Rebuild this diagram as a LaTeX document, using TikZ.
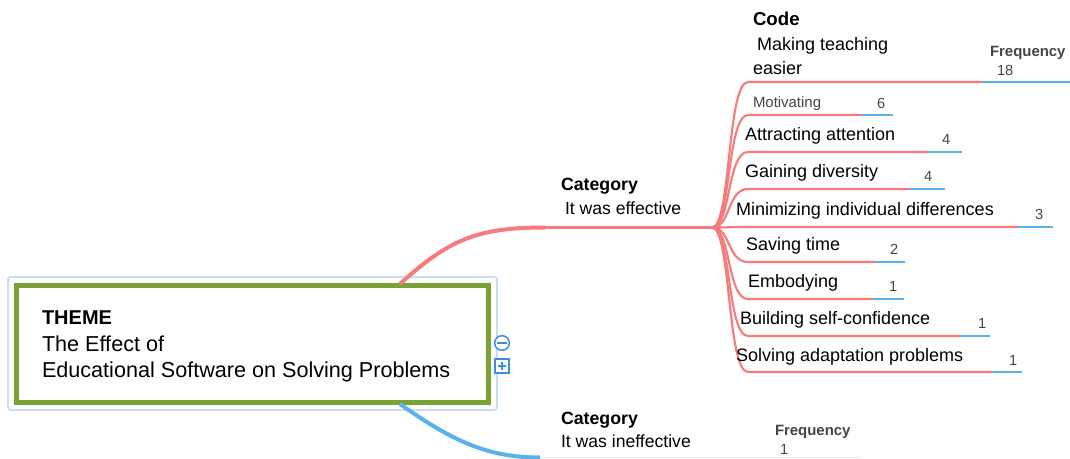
\documentclass[tikz,border=0pt]{standalone}
\usepackage{fontspec}
\setmainfont{Liberation Sans}
\usetikzlibrary{positioning}

\definecolor{branchred}{HTML}{F77B7B}
\definecolor{freqblue}{HTML}{5AB2EC}
\definecolor{paleblue}{HTML}{DCEEFA}
\definecolor{themegreen}{HTML}{7AA336}
\definecolor{haloblue}{HTML}{C9DDF4}
\definecolor{iconblue}{HTML}{3B8DE0}
\definecolor{numgray}{HTML}{454545}

\begin{document}
\begin{tikzpicture}[x=0.75pt, y=-0.75pt,
  every node/.style={inner sep=0pt, outer sep=0pt, anchor=base west},
  codetext/.style={font=\fontsize{13.5}{15}\selectfont},
  cattext/.style={font=\fontsize{13.2}{15}\selectfont},
  headtext/.style={font=\bfseries\fontsize{13.3}{15}\selectfont},
  themetext/.style={font=\fontsize{16.2}{18}\selectfont},
  freqtext/.style={font=\bfseries\fontsize{11.2}{12}\selectfont, text=numgray},
  numtext/.style={font=\fontsize{11}{12}\selectfont, text=numgray},
  redline/.style={draw=branchred, line width=1.6pt},
  blueline/.style={draw=freqblue, line width=1.7pt}]

\useasboundingbox (0,0) rectangle (1070,459);

% theme box
\draw [haloblue, line width=1.4pt, rounded corners=2pt] (8,277) rectangle (497,410);
\node [draw=themegreen, line width=3.75pt, anchor=north west,
       minimum width=354pt, minimum height=87.75pt] (theme) at (16.5,285.5) {};

\node [themetext, font=\bfseries\fontsize{15}{18}\selectfont] (themehead) at (42,325) {THEME};
\node [themetext] (themeA) at (42,352) {The Effect of};
\node [themetext] (themeB) at (42,378) {Educational Software on Solving Problems};

% collapse / expand icons
\node [draw=iconblue, line width=1.1pt, circle, anchor=center, minimum size=11pt, fill=white] (collapse) at (502,343) {};
\draw [iconblue, line width=1.3pt] ([xshift=-3.5pt]collapse.center) -- ([xshift=3.5pt]collapse.center);
\node [draw=iconblue, line width=1.1pt, anchor=center, minimum size=10.5pt, fill=white] (expand) at (502,366) {};
\draw [iconblue, line width=1.3pt] ([xshift=-3pt]expand.center) -- ([xshift=3pt]expand.center);
\draw [iconblue, line width=1.3pt] ([yshift=-3pt]expand.center) -- ([yshift=3pt]expand.center);

% effective branch
\coordinate (rootA) at (400,284);
\coordinate (bendA) at (545,227.5);
\coordinate (hub) at (712,227.5);
\draw [branchred, line width=3pt] (rootA) .. controls (450,238) and (480,227.5) .. (bendA);
\draw [redline] (bendA) -- (hub);

\node [headtext] (catA) at (561,191) {Category};
\node [cattext] (catAtext) at (565,215) {It was effective};

% top code, with headings
\coordinate (code0) at (748,82);
\coordinate (split0) at (982,82);
\coordinate (end0) at (1070,82);
\draw [redline] (hub) .. controls (731,227) and (727,82) .. (code0) -- (split0);
\draw [blueline] (split0) -- (end0);
\node [headtext, font=\bfseries\fontsize{14}{15}\selectfont] (codehead) at (753,26) {Code};
\node [codetext] (code0a) at (757,51) {Making teaching};
\node [codetext] (code0b) at (753,75) {easier};
\node [freqtext] (freqhead) at (990,57) {Frequency};
\node [numtext] (num0) at (997,76) {18};

\node [font=\fontsize{11.2}{12}\selectfont, text=numgray] (code1) at (753,108) {Motivating};
\node [numtext] (num1) at (877,109) {6};

% remaining codes
\foreach \y/\r/\b/\tx/\txt/\nx/\num [count=\i from 1] in {
    115/862/893/0/{}/0/{},
    152/928/962/745/{Attracting attention}/942/4,
    189/910/945/745/{Gaining diversity}/924/4,
    227/1018/1053/736/{Minimizing individual differences}/1035/3,
    262/875/905/746/{Saving time}/890/2,
    299/873/904/748/{Embodying}/889/1,
    336/960/990/740/{Building self-confidence}/978/1,
    372/992/1022/736/{Solving adaptation problems}/1009/1} {
  \coordinate (code\i) at (748,\y);
  \coordinate (split\i) at (\r,\y);
  \coordinate (end\i) at (\b,\y);
  \draw [redline] (hub) .. controls (731,227.5) and (727,\y) .. (code\i) -- (split\i);
  \draw [blueline] (split\i) -- (end\i);
  \ifnum\i>1
    \node [codetext] (label\i) at (\tx,\y-11) {\txt};
    \node [numtext] (freq\i) at (\nx,\y-7) {\num};
  \fi
}

% ineffective branch
\coordinate (rootB) at (400,404);
\coordinate (bendB) at (540,457.5);
\coordinate (endB) at (862,457.5);
\draw [freqblue, line width=3pt] (rootB) .. controls (455,443) and (490,457.5) .. (bendB);
\draw [paleblue, line width=1pt] (bendB) -- (endB);

\node [headtext] (catB) at (561,424) {Category};
\node [cattext] (catBtext) at (561,447) {It was ineffective};
\node [freqtext] (freqB) at (775,435) {Frequency};
\node [numtext] (numB) at (780,454) {1};

\end{tikzpicture}
\end{document}
